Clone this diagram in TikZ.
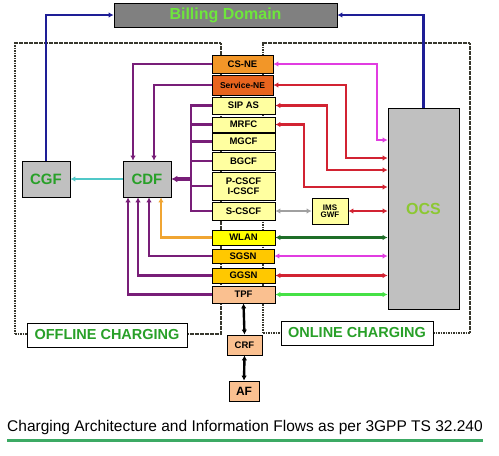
\documentclass[tikz,border=0pt]{standalone}
\usepackage{fontspec}
\setmainfont{Liberation Sans}
\usetikzlibrary{arrows.meta,calc}
\definecolor{cOrange}{RGB}{242,150,40}
\definecolor{cDarkOrange}{RGB}{232,100,30}
\definecolor{cLightYellow}{RGB}{255,255,160}
\definecolor{cYellow}{RGB}{255,255,0}
\definecolor{cGold}{RGB}{255,200,0}
\definecolor{cPeach}{RGB}{250,192,144}
\definecolor{cGray}{RGB}{128,128,128}
\definecolor{cSilver}{RGB}{192,192,192}
\definecolor{cPurple}{RGB}{120,30,120}
\definecolor{cMagenta}{RGB}{225,60,225}
\definecolor{cRed}{RGB}{210,35,50}
\definecolor{cDkGreen}{RGB}{30,110,40}
\definecolor{cLtGreen}{RGB}{70,225,70}
\definecolor{cArrGray}{RGB}{160,160,160}
\definecolor{cCyan}{RGB}{80,200,200}
\definecolor{cOrLine}{RGB}{240,165,50}
\definecolor{cBlue}{RGB}{30,30,150}
\definecolor{cTxtGreen}{RGB}{40,160,40}
\definecolor{cBillTxt}{RGB}{110,230,60}
\definecolor{cOcsTxt}{RGB}{140,200,50}
\definecolor{cDash}{RGB}{55,55,45}
\definecolor{cUnder}{RGB}{60,170,100}
\tikzset{
  colbox/.style={draw=black, line width=0.8pt, inner sep=0pt, minimum width=63pt, align=center,
    font=\fontsize{9.5}{10.5}\selectfont\bfseries},
  graybox/.style={draw=black, line width=0.8pt, fill=cSilver, inner sep=0pt,
    font=\fontsize{15}{16}\selectfont\bfseries, text=cTxtGreen},
  labelbox/.style={draw=black, line width=0.8pt, fill=white, inner sep=0pt,
    font=\fontsize{14.5}{16}\selectfont\bfseries, text=cTxtGreen},
  dashbox/.style={draw=cDash, line width=2.4pt, dash pattern=on 1.6pt off 0.9pt, inner sep=0pt},
  purp/.style={draw=cPurple, line width=2.4pt},
  rline/.style={line width=2.4pt},
}
\begin{document}
\begin{tikzpicture}[x=1pt,y=-1pt, >={Latex[length=5pt,width=5.5pt]}]
\useasboundingbox (0,0) rectangle (499,456);
\fill[white] (0,0) rectangle (499,456);
% dashed domain frames
\node[dashbox, minimum width=206pt, minimum height=291pt] (offfr) at (118,188.5) {};
\node[dashbox, minimum width=207pt, minimum height=290pt] (onfr) at (366.5,188) {};
% boxes
\node[draw=black, line width=0.8pt, fill=cGray, inner sep=0pt, minimum width=223pt, minimum height=24pt,
  font=\fontsize{16}{18}\selectfont\bfseries, text=cBillTxt] (bill) at (225.5,15) {Billing Domain};
\node[colbox, fill=cOrange, minimum width=61pt, minimum height=18pt] (csne) at (242.5,64) {CS-NE};
\node[colbox, fill=cDarkOrange, minimum width=61pt, minimum height=20pt, font=\fontsize{8.5}{10}\selectfont\bfseries] (servne) at (242.5,85) {Service-NE};
\node[colbox, fill=cLightYellow, minimum height=17pt] (sipas) at (243.5,105.5) {SIP AS};
\node[colbox, fill=cLightYellow, minimum height=15pt] (mrfc) at (243.5,124.5) {MRFC};
\node[colbox, fill=cLightYellow, minimum height=17pt] (mgcf) at (243.5,141.5) {MGCF};
\node[colbox, fill=cLightYellow, minimum height=18pt] (bgcf) at (243.5,161) {BGCF};
\node[colbox, fill=cLightYellow, minimum height=28pt] (pcscf) at (243.5,186) {P-CSCF\\[-1pt]I-CSCF};
\node[colbox, fill=cLightYellow, minimum height=18pt] (scscf) at (243.5,211) {S-CSCF};
\node[colbox, fill=cYellow, minimum height=15pt] (wlan) at (243.5,237.5) {WLAN};
\node[colbox, fill=cGold, minimum width=62pt, minimum height=14pt] (sgsn) at (243,256) {SGSN};
\node[colbox, fill=cGold, minimum height=15pt] (ggsn) at (243.5,275.5) {GGSN};
\node[colbox, fill=cPeach, minimum height=17pt] (tpf) at (243.5,294.5) {TPF};
\node[colbox, fill=cPeach, minimum width=35pt, minimum height=20pt] (crf) at (244.5,345) {CRF};
\node[colbox, fill=cPeach, minimum width=30pt, minimum height=20pt, font=\fontsize{12}{13}\selectfont\bfseries] (af) at (244,391) {AF};
\node[graybox, minimum width=48pt, minimum height=36pt] (cgf) at (46,179) {CGF};
\node[graybox, minimum width=48pt, minimum height=36pt] (cdf) at (147,179) {CDF};
\node[graybox, minimum width=71pt, minimum height=201pt, font=\fontsize{16}{18}\selectfont\bfseries, text=cOcsTxt] (ocs) at (423.5,208.5) {OCS};
\node[colbox, fill=cLightYellow, minimum width=36pt, minimum height=26pt, font=\fontsize{8}{8.5}\selectfont\bfseries] (gwf) at (330,211) {IMS\\[-1pt]GWF};
\node[labelbox, minimum width=160pt, minimum height=24pt] (offlbl) at (107,335) {OFFLINE CHARGING};
\node[labelbox, minimum width=152pt, minimum height=24pt] (onlbl) at (357,333) {ONLINE CHARGING};
% blue to billing
\draw[cBlue, rline, ->] (cgf.north) |- (bill.west);
\draw[cBlue, rline, ->] (ocs.north) |- (bill.east);
% cyan CDF -> CGF
\draw[cCyan, rline, ->] (cdf.west) -- (cgf.east);
% purple from CS-NE / Service-NE
\draw[purp, ->] (csne.west) -| ([xshift=-14pt]cdf.north);
\draw[purp, ->] (servne.west) -| ([xshift=7pt]cdf.north);
% IMS bus
\coordinate (busT) at (191,105.5);
\coordinate (busB) at (191,211);
\draw[purp] (sipas.west) -- (busT) -- (busB) -- (scscf.west);
\draw[purp] (mrfc.west) -- (busT |- mrfc.west);
\draw[purp] (mgcf.west) -- (busT |- mgcf.west);
\draw[purp] (bgcf.west) -- (busT |- bgcf.west);
\draw[purp] (pcscf.west) -- (busT |- pcscf.west);
\draw[cPurple, line width=4pt, ->, >={Latex[length=6pt,width=7pt]}] (busT |- cdf.east) -- (cdf.east);
% lower connectors to CDF
\draw[cOrLine, rline, ->] (wlan.west) -| ([xshift=14pt]cdf.south);
\draw[purp, ->] (sgsn.west) -| ([xshift=2pt]cdf.south);
\draw[purp, ->] (ggsn.west) -| ([xshift=-9pt]cdf.south);
\draw[purp, ->] (tpf.west) -| ([xshift=-19pt]cdf.south);
% right side to OCS
\coordinate (r1) at (377,140);
\coordinate (r2) at (346,158);
\coordinate (r3) at (327,170);
\coordinate (r4) at (304,187);
\draw[cMagenta, rline, <->] (csne.east) -| (r1) -- (ocs.west |- r1);
\draw[cRed, rline, <->] (servne.east) -| (r2) -- (ocs.west |- r2);
\draw[cRed, rline, <->] (sipas.east) -| (r3) -- (ocs.west |- r3);
\draw[cRed, rline, <->] (mrfc.east) -| (r4) -- (ocs.west |- r4);
\draw[cArrGray, rline, <->] (scscf.east) -- (gwf.west);
\draw[cRed, rline, <->] (gwf.east) -- (ocs.west |- gwf.east);
\draw[cDkGreen, rline, <->] (wlan.east) -- (ocs.west |- wlan.east);
\draw[cMagenta, rline, <->] (sgsn.east) -- (ocs.west |- sgsn.east);
\draw[cRed, rline, <->] (ggsn.east) -- (ocs.west |- ggsn.east);
\draw[cLtGreen, rline, <->] (tpf.east) -- (ocs.west |- tpf.east);
% black
\draw[black, line width=2.4pt, <->] (tpf.south) -- (crf.north);
\draw[black, line width=2.4pt, <->] (crf.south) -- (af.north);
% caption
\node[inner sep=0pt, anchor=west, font=\fontsize{15.5}{17}\selectfont] (cap) at (7,427) {Charging Architecture and Information Flows as per 3GPP TS 32.240};
\coordinate (ulL) at (7,440);
\coordinate (ulR) at (483,440);
\draw[cUnder, line width=3pt] (ulL) -- (ulR);
\end{tikzpicture}
\end{document}
